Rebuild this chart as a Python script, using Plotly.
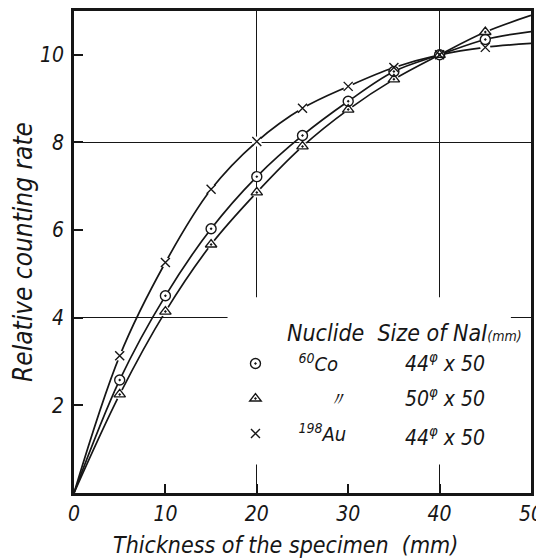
import plotly.graph_objects as go

# ---- data ----
thickness = [5, 10, 15, 20, 25, 30, 35, 40, 45]
co60_44 = [2.58, 4.50, 6.03, 7.22, 8.16, 8.94, 9.62, 10.0, 10.35]
co60_50 = [2.25, 4.14, 5.67, 6.86, 7.91, 8.75, 9.44, 10.0, 10.52]
au198_44 = [3.13, 5.26, 6.93, 8.02, 8.78, 9.28, 9.71, 10.0, 10.17]

# curve end points (drawn curves start at the origin and run to 50 mm)
curve_start_x, curve_start_y = 0, 0.0
curve_end_x = 50
co60_44_end = 10.53
co60_50_end = 10.90
au198_44_end = 10.26

x_ticks = [0, 10, 20, 30, 40, 50]
y_ticks = [2, 4, 6, 8, 10]
x_grid = [20, 40]
y_grid = [4, 8]

names = ["<sup>60</sup>Co", "\u00a0\u00a0\u00a0\u00a0\u00a0\u3003", "<sup>198</sup>Au"]
sizes = ["44<sup>\u03c6</sup> x 50", "50<sup>\u03c6</sup> x 50", "44<sup>\u03c6</sup> x 50"]
symbols = ["circle-open-dot", "triangle-up-open-dot", "x-thin-open"]

FONT = "Liberation Sans Narrow, DejaVu Sans Condensed, Liberation Sans, sans-serif"
INK = "#161616"

series = [co60_44, co60_50, au198_44]
ends = [co60_44_end, co60_50_end, au198_44_end]

fig = go.Figure()

for vals, end in zip(series, ends):
    cx = [curve_start_x] + thickness + [curve_end_x]
    cy = [curve_start_y] + vals + [end]
    fig.add_trace(go.Scatter(x=cx, y=cy, mode="lines",
                             line=dict(color=INK, width=1.7, shape="spline", smoothing=1.0),
                             showlegend=False, hoverinfo="skip"))

# white halos to break curves around symbols
for vals in series:
    fig.add_trace(go.Scatter(x=thickness, y=vals, mode="markers",
                             marker=dict(symbol="circle", size=10, color="white"),
                             showlegend=False, hoverinfo="skip"))

for i, (vals, nm, sym) in enumerate(zip(series, names, symbols)):
    fig.add_trace(go.Scatter(x=thickness, y=vals, mode="markers", name=nm,
                             legendgroup=f"g{i}",
                             marker=dict(symbol=sym, size=10 if i < 2 else 9, color=INK,
                                         line=dict(width=1.4, color=INK))))

axis_font = dict(family=FONT, size=21, color=INK, style="italic")

# the page body adds an 8 px offset, so the figure is 8 px smaller than the window
fig.update_layout(
    width=536, height=551,
    margin=dict(l=66, r=13, t=3, b=66),
    paper_bgcolor="white", plot_bgcolor="white",
    font=dict(family=FONT, color=INK, style="italic"),
    xaxis=dict(range=[0, 50], tickvals=x_ticks, ticks="inside", ticklen=9, tickwidth=1.5,
               tickcolor=INK, showgrid=False, zeroline=False, showline=True, linewidth=2.5,
               linecolor=INK, mirror=True, tickfont=axis_font, ticklabelstandoff=0,
               automargin=False,
               minor=dict(tickvals=x_grid, showgrid=True, gridcolor=INK, gridwidth=1.4, ticks="")),
    yaxis=dict(range=[0, 11], tickvals=y_ticks, ticks="inside", ticklen=9, tickwidth=1.5,
               tickcolor=INK, showgrid=False, zeroline=False, showline=True, linewidth=2.5,
               linecolor=INK, mirror=True, tickfont=axis_font, ticklabelstandoff=3,
               automargin=False,
               minor=dict(tickvals=y_grid, showgrid=True, gridcolor=INK, gridwidth=1.4, ticks=""),
               title=dict(text="Relative counting rate",
                          font=dict(family=FONT, size=26, color=INK, style="italic"), standoff=6)),
    legend=dict(x=0.303, y=0.309, xanchor="left", yanchor="top", bgcolor="rgba(0,0,0,0)",
                font=dict(family=FONT, size=20, color=INK, style="italic"),
                itemwidth=76, tracegroupgap=6, itemclick=False),
    showlegend=True,
)

# x-axis title, set slightly left of centre as in the original
fig.add_annotation(xref="paper", yref="paper", x=0.462, y=0, yshift=-52,
                   xanchor="center", yanchor="middle", showarrow=False,
                   text="Thickness of the specimen \u00a0(mm)",
                   font=dict(family=FONT, size=23, color=INK, style="italic"))

# clear the grid behind the key
fig.add_shape(type="rect", xref="x", yref="y", x0=16.8, x1=47.8, y0=0.65, y1=4.47,
              fillcolor="white", line=dict(width=0), layer="between")

fig.add_annotation(xref="x", yref="y", x=23.1, y=3.65, xanchor="left", yanchor="middle",
                   text="Nuclide \u00a0Size of NaI<span style='font-size:14px'>(mm)</span>",
                   showarrow=False, font=dict(family=FONT, size=23, color=INK, style="italic"))
size_y = [2.99, 2.19, 1.30]
for s, yy in zip(sizes, size_y):
    fig.add_annotation(xref="x", yref="y", x=40.6, y=yy, xanchor="center", yanchor="middle",
                       text=s, showarrow=False,
                       font=dict(family=FONT, size=21, color=INK, style="italic"))

fig.write_html("out.html")
